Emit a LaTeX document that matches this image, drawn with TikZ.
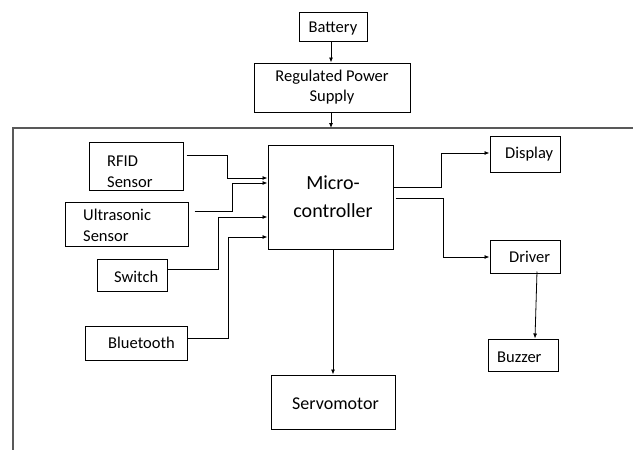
\documentclass[tikz,border=0pt]{standalone}
\usepackage{fontspec}
\setmainfont{Carlito}
\usetikzlibrary{arrows.meta}

\begin{document}
\begin{tikzpicture}[x=1pt,y=-1pt,
        blk/.style={draw,line width=1pt,inner sep=0pt},
        txt/.style={font=\fontsize{16.5}{20.5}\selectfont,inner sep=0pt,align=left},
        link/.style={line width=0.8pt,-{Latex[length=5pt,width=4pt]}}]
    \useasboundingbox (0,0) rectangle (633,450);

    % Frame
    \draw[line width=1.3pt,black!65] (633,128) -- (13,128) -- (13,450);
    \coordinate (frmtop) at (331,128);

    % Power
    \node[blk,minimum width=68,minimum height=29] (bat) at (333,26.5) {};
    \node[txt,anchor=mid] (bat-t) at (333,30) {Battery};
    \node[blk,minimum width=156,minimum height=49] (rps) at (332,87.5) {};
    \node[txt,anchor=center,align=center] (rps-t) at (332,87) {Regulated Power\\Supply};

    % Controller
    \node[blk,minimum width=125,minimum height=104] (mcu) at (330.5,197) {};
    \node[txt,anchor=center,align=center,font=\fontsize{20}{28}\selectfont] (mcu-t) at (333,197) {Micro-\\controller};

    % Inputs
    \node[blk,minimum width=94,minimum height=48] (rfid) at (136,166) {};
    \node[txt,anchor=west] (rfid-t) at (107,172) {RFID\\Sensor};
    \node[blk,minimum width=123,minimum height=44] (ultra) at (126.5,224) {};
    \node[txt,anchor=west] (ultra-t) at (83,225.5) {Ultrasonic\\Sensor};
    \node[blk,minimum width=70,minimum height=32] (sw) at (132,275) {};
    \node[txt,anchor=mid west] (sw-t) at (114,280) {Switch};
    \node[blk,minimum width=102,minimum height=34] (bt) at (136,343) {};
    \node[txt,anchor=mid west] (bt-t) at (108,346) {Bluetooth};

    % Outputs
    \node[blk,minimum width=70,minimum height=36] (disp) at (525,154) {};
    \node[txt,anchor=mid west] (disp-t) at (505,156) {Display};
    \node[blk,minimum width=70,minimum height=33] (drv) at (525,256.5) {};
    \node[txt,anchor=mid west] (drv-t) at (509,260) {Driver};
    \node[blk,minimum width=70,minimum height=32] (buz) at (523,355) {};
    \node[txt,anchor=mid west] (buz-t) at (497,360) {Buzzer};
    \node[blk,minimum width=124,minimum height=54] (servo) at (333,402) {};
    \node[txt,anchor=mid west,font=\fontsize{18}{22}\selectfont] (servo-t) at (292,407) {Servomotor};

    % Power links
    \draw[link] (bat.south -| 331,0) -- (rps.north -| 331,0);
    \draw[link] (rps.south -| frmtop) -- (frmtop);

    % Input links
    \draw[link] ([xshift=3pt]rfid.east |- 0,155) -| (227,178) -- (mcu.west |- 0,178);
    \draw[link] ([xshift=6pt]ultra.east |- 0,211) -| (232,183) -- (mcu.west |- 0,183);
    \draw[link] (sw.east |- 0,269) -| (218,217) -- (mcu.west |- 0,217);
    \draw[link] (bt.east |- 0,338) -| (228,237) -- (mcu.west |- 0,237);

    % Output links
    \draw[link] (mcu.east |- 0,187) -| (441,153) -- (disp.west |- 0,153);
    \draw[link] ([xshift=2pt]mcu.east |- 0,198) -| (443,257) -- (drv.west |- 0,257);
    \draw[link] (mcu.south -| servo.north) -- (servo.north);
    \draw[link] ([xshift=12pt,yshift=2pt]drv.south) -- ([xshift=12pt]buz.north);
\end{tikzpicture}
\end{document}
